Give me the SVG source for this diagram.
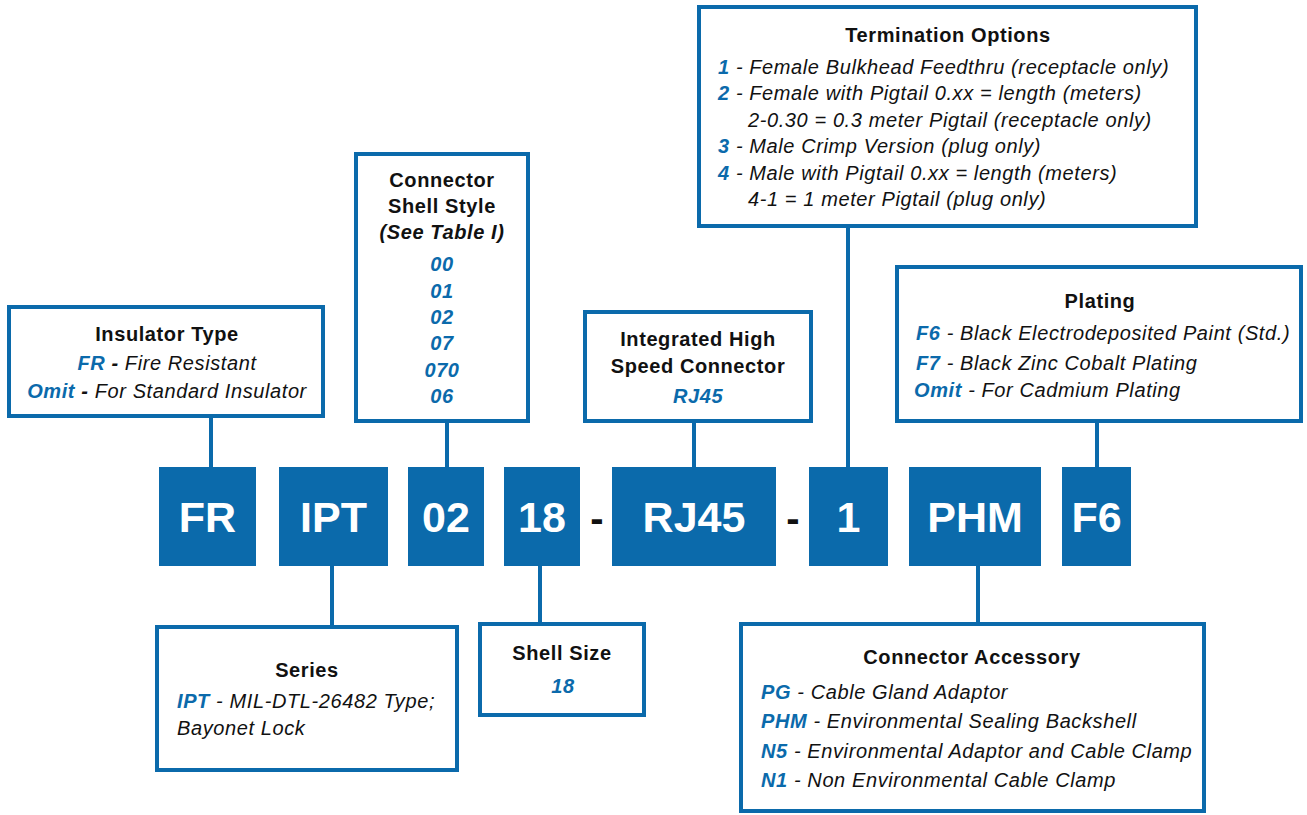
<svg xmlns="http://www.w3.org/2000/svg" width="1307" height="815" viewBox="0 0 1307 815">
<style>
.box{fill:#fff;stroke:#0b6aab;stroke-width:4}
.code{fill:#0b6aab}
.ct{font-family:"Liberation Sans",Arial,sans-serif;font-weight:bold;font-size:43px;fill:#fff;text-anchor:middle}
.dash{font-family:"Liberation Sans",Arial,sans-serif;font-weight:bold;font-size:40px;fill:#111;text-anchor:middle}
.t{font-family:"Liberation Sans",Arial,sans-serif;font-weight:bold;font-size:20px;letter-spacing:0.6px;fill:#111}
.c{text-anchor:middle}
.b{font-family:"Liberation Sans",Arial,sans-serif;font-style:italic;font-size:20px;letter-spacing:0.6px;fill:#111}
.k{font-weight:bold;fill:#0b6aab}
.kb{font-weight:bold;fill:#111}
.ln{stroke:#0b6aab;stroke-width:4;fill:none}
</style>
<g id="connectors">
<line class="ln" x1="211" y1="418" x2="211" y2="467"/>
<line class="ln" x1="447" y1="423" x2="447" y2="467"/>
<line class="ln" x1="694" y1="423" x2="694" y2="467"/>
<line class="ln" x1="848" y1="228" x2="848" y2="467"/>
<line class="ln" x1="1097" y1="423" x2="1097" y2="467"/>
<line class="ln" x1="332" y1="566" x2="332" y2="625"/>
<line class="ln" x1="540" y1="566" x2="540" y2="622"/>
<line class="ln" x1="978" y1="566" x2="978" y2="622"/>
</g>
<g id="code-FR"><rect class="code" x="159" y="467" width="97" height="99"/><text class="ct" x="207.5" y="532">FR</text></g>
<g id="code-IPT"><rect class="code" x="279" y="467" width="109" height="99"/><text class="ct" x="333.5" y="532">IPT</text></g>
<g id="code-02"><rect class="code" x="408" y="467" width="76" height="99"/><text class="ct" x="446" y="532">02</text></g>
<g id="code-18"><rect class="code" x="504" y="467" width="76" height="99"/><text class="ct" x="542" y="532">18</text></g>
<g id="dash1"><text class="dash" x="597" y="532">-</text></g>
<g id="code-RJ45"><rect class="code" x="612" y="467" width="164" height="99"/><text class="ct" x="694" y="532">RJ45</text></g>
<g id="dash2"><text class="dash" x="793" y="532">-</text></g>
<g id="code-1"><rect class="code" x="809" y="467" width="79" height="99"/><text class="ct" x="848.5" y="532">1</text></g>
<g id="code-PHM"><rect class="code" x="909" y="467" width="132" height="99"/><text class="ct" x="975" y="532">PHM</text></g>
<g id="code-F6"><rect class="code" x="1062" y="467" width="69" height="99"/><text class="ct" x="1096.5" y="532">F6</text></g>

<g id="insulator-type">
<rect class="box" x="9" y="307" width="314" height="109"/>
<text class="t c" x="167" y="341">Insulator Type</text>
<text class="b c" x="167" y="370"><tspan class="k">FR</tspan><tspan class="kb"> - </tspan>Fire Resistant</text>
<text class="b c" x="167" y="398"><tspan class="k">Omit</tspan><tspan class="kb"> - </tspan>For Standard Insulator</text>
</g>
<g id="shell-style">
<rect class="box" x="356" y="154" width="172" height="267"/>
<text class="t c" x="442" y="187">Connector</text>
<text class="t c" x="442" y="213">Shell Style</text>
<text class="t c" x="442" y="239" font-style="italic">(See Table I)</text>
<text class="b k c" x="442" y="271">00</text>
<text class="b k c" x="442" y="298">01</text>
<text class="b k c" x="442" y="324">02</text>
<text class="b k c" x="442" y="350">07</text>
<text class="b k c" x="442" y="377">070</text>
<text class="b k c" x="442" y="403">06</text>
</g>
<g id="termination">
<rect class="box" x="699" y="7" width="497" height="219"/>
<text class="t c" x="948" y="42">Termination Options</text>
<text class="b" x="718" y="74"><tspan class="k">1</tspan> - Female Bulkhead Feedthru (receptacle only)</text>
<text class="b" x="718" y="100"><tspan class="k">2</tspan> - Female with Pigtail 0.xx = length (meters)</text>
<text class="b" x="748" y="127">2-0.30 = 0.3 meter Pigtail (receptacle only)</text>
<text class="b" x="718" y="153"><tspan class="k">3</tspan> - Male Crimp Version (plug only)</text>
<text class="b" x="718" y="180"><tspan class="k">4</tspan> - Male with Pigtail 0.xx = length (meters)</text>
<text class="b" x="748" y="206">4-1 = 1 meter Pigtail (plug only)</text>
</g>
<g id="integrated">
<rect class="box" x="585" y="312" width="226" height="109"/>
<text class="t c" x="698" y="346">Integrated High</text>
<text class="t c" x="698" y="373">Speed Connector</text>
<text class="b k c" x="698" y="403">RJ45</text>
</g>
<g id="plating">
<rect class="box" x="897" y="267" width="404" height="154"/>
<text class="t c" x="1100" y="308">Plating</text>
<text class="b" x="916" y="340"><tspan class="k">F6</tspan> - Black Electrodeposited Paint (Std.)</text>
<text class="b" x="916" y="370"><tspan class="k">F7</tspan> - Black Zinc Cobalt Plating</text>
<text class="b" x="914" y="397"><tspan class="k">Omit</tspan> - For Cadmium Plating</text>
</g>
<g id="series">
<rect class="box" x="157" y="627" width="300" height="143"/>
<text class="t c" x="307" y="677">Series</text>
<text class="b" x="177" y="708"><tspan class="k">IPT</tspan> - MIL-DTL-26482 Type;</text>
<text class="b" x="177" y="735">Bayonet Lock</text>
</g>
<g id="shell-size">
<rect class="box" x="480" y="624" width="164" height="91"/>
<text class="t c" x="562" y="660">Shell Size</text>
<text class="b k c" x="563" y="693">18</text>
</g>
<g id="accessory">
<rect class="box" x="741" y="624" width="463" height="187"/>
<text class="t c" x="972" y="664">Connector Accessory</text>
<text class="b" x="761" y="699"><tspan class="k">PG</tspan> - Cable Gland Adaptor</text>
<text class="b" x="761" y="728"><tspan class="k">PHM</tspan> - Environmental Sealing Backshell</text>
<text class="b" x="761" y="758"><tspan class="k">N5</tspan> - Environmental Adaptor and Cable Clamp</text>
<text class="b" x="761" y="787"><tspan class="k">N1</tspan> - Non Environmental Cable Clamp</text>
</g>
</svg>
